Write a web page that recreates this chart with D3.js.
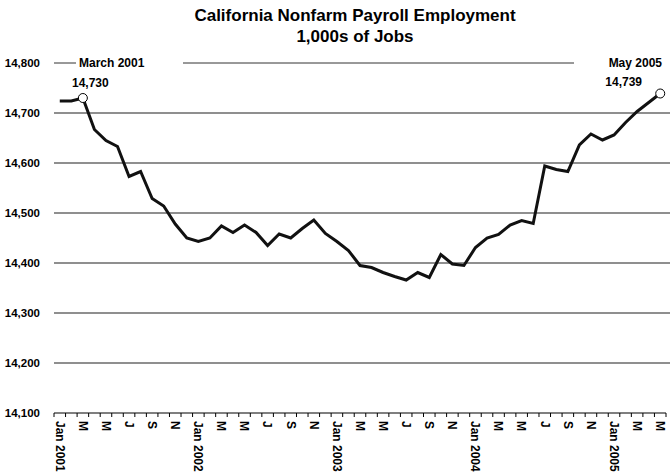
<!DOCTYPE html>
<meta charset="utf-8">
<style>
body { margin: 0; background: #fff; }
svg { display: block; font-family: "Liberation Sans", Arial, sans-serif; font-weight: bold; }
</style>
<svg width="670" height="475"></svg>
<script src="https://cdn.jsdelivr.net/npm/d3@7"></script>
<script>

// monthly categories, Jan 2001 .. May 2005
var months = ["Jan","Feb","Mar","Apr","May","Jun","Jul","Aug","Sep","Oct","Nov","Dec"];
var years = [2001, 2002, 2003, 2004, 2005];

var tickLabels = [
  "Jan 2001","","M","","M","","J","","S","","N","",
  "Jan 2002","","M","","M","","J","","S","","N","",
  "Jan 2003","","M","","M","","J","","S","","N","",
  "Jan 2004","","M","","M","","J","","S","","N","",
  "Jan 2005","","M","","M"
];

// thousands of jobs
var jobs = [
  14724, 14724, 14730, 14667, 14645, 14633, 14573, 14583, 14529, 14514, 14478, 14450,
  14443, 14450, 14474, 14461, 14476, 14461, 14435, 14458, 14450, 14469, 14486, 14459,
  14443, 14425, 14395, 14391, 14381, 14373, 14366, 14381, 14371, 14417, 14398, 14395,
  14431, 14450, 14457, 14476, 14485, 14479, 14594, 14587, 14583, 14636, 14658, 14646,
  14656, 14681, 14703, 14721, 14739
];

var yTicks = [14100, 14200, 14300, 14400, 14500, 14600, 14700, 14800];

var categories = [];
years.forEach(function(y) {
  months.forEach(function(m) {
    if (categories.length < jobs.length) categories.push(m + " " + y);
  });
});

var data = categories.map(function(c, i) { return {month: c, value: jobs[i], label: tickLabels[i]}; });

var svg = d3.select("svg");

var x = d3.scaleBand().domain(categories).range([54, 666]).padding(0);
var y = d3.scaleLinear().domain([14100, 14800]).range([413, 63]);
var cx = function(d) { return x(d.month) + x.bandwidth() / 2; };

// title
svg.append("text")
    .attr("x", 355).attr("y", 21)
    .attr("text-anchor", "middle")
    .style("font-size", "17px")
    .text("California Nonfarm Payroll Employment");
svg.append("text")
    .attr("x", 355).attr("y", 42)
    .attr("text-anchor", "middle")
    .style("font-size", "17px")
    .text("1,000s of Jobs");

// gridlines (top one broken by the annotations)
svg.append("g").selectAll("line")
    .data(yTicks.filter(function(v) { return v > 14100 && v < 14800; }))
    .enter().append("line")
    .attr("x1", 54).attr("x2", 670)
    .attr("y1", function(d) { return y(d); })
    .attr("y2", function(d) { return y(d); })
    .attr("stroke", "#6a6a6a")
    .attr("stroke-width", 1.3);

svg.append("g").selectAll("line")
    .data([[54, 76], [183, 574]])
    .enter().append("line")
    .attr("x1", function(d) { return d[0]; })
    .attr("x2", function(d) { return d[1]; })
    .attr("y1", y(14800)).attr("y2", y(14800))
    .attr("stroke", "#333")
    .attr("stroke-width", 1);

// y labels
svg.append("g").selectAll("text")
    .data(yTicks)
    .enter().append("text")
    .attr("x", 40)
    .attr("y", function(d) { return y(d) + 4; })
    .attr("text-anchor", "end")
    .style("font-size", "11.5px")
    .text(d3.format(","));

// x axis
var ax = svg.append("g");
ax.append("line")
    .attr("x1", 54).attr("x2", 666)
    .attr("y1", y(14100)).attr("y2", y(14100))
    .attr("stroke", "#000").attr("stroke-width", 1.2);
ax.selectAll("line.tick")
    .data(d3.range(categories.length + 1))
    .enter().append("line")
    .attr("class", "tick")
    .attr("x1", function(i) { return x.range()[0] + i * x.bandwidth(); })
    .attr("x2", function(i) { return x.range()[0] + i * x.bandwidth(); })
    .attr("y1", y(14100)).attr("y2", y(14100) + 4)
    .attr("stroke", "#000").attr("stroke-width", 1);
ax.selectAll("text")
    .data(data.filter(function(d) { return d.label; }))
    .enter().append("text")
    .attr("transform", function(d) { return "translate(" + cx(d) + "," + (y(14100) + 8) + ") rotate(90)"; })
    .attr("dy", "0.35em")
    .style("font-size", "12px")
    .text(function(d) { return d.label; });

// line
var line = d3.line().x(cx).y(function(d) { return y(d.value); });
svg.append("path")
    .datum(data)
    .attr("d", line)
    .attr("fill", "none")
    .attr("stroke", "#111")
    .attr("stroke-width", 3)
    .attr("stroke-linejoin", "miter");

// annotated points
var marked = [data[2], data[data.length - 1]];
svg.append("g").selectAll("circle")
    .data(marked)
    .enter().append("circle")
    .attr("cx", cx)
    .attr("cy", function(d) { return y(d.value); })
    .attr("r", 4.5)
    .attr("fill", "#fff")
    .attr("stroke", "#000")
    .attr("stroke-width", 1);

svg.append("text")
    .attr("x", 79).attr("y", 67)
    .style("font-size", "12px")
    .text("March 2001");
svg.append("text")
    .attr("x", 72).attr("y", 87)
    .style("font-size", "12px")
    .text(d3.format(",")(data[2].value));
svg.append("text")
    .attr("x", 662).attr("y", 67)
    .attr("text-anchor", "end")
    .style("font-size", "12px")
    .text("May 2005");
svg.append("text")
    .attr("x", 642).attr("y", 86)
    .attr("text-anchor", "end")
    .style("font-size", "12px")
    .text(d3.format(",")(data[data.length - 1].value));

</script>
